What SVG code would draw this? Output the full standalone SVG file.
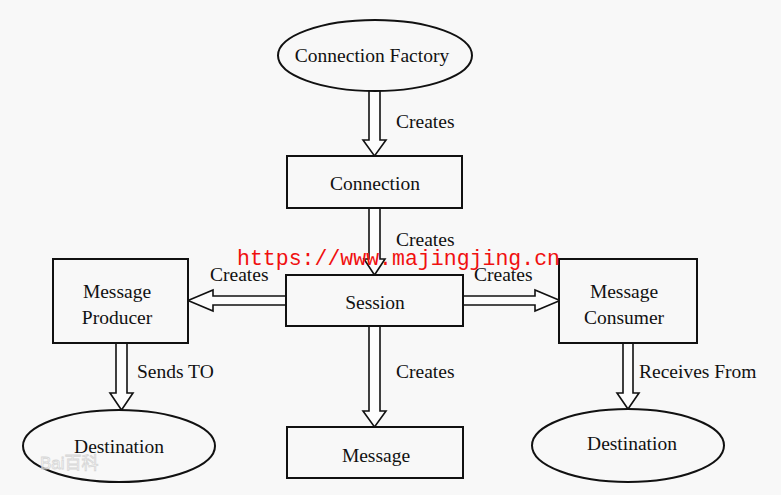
<svg xmlns="http://www.w3.org/2000/svg" width="781" height="495" viewBox="0 0 781 495">
<style>
.bg{fill:#f8f8f8}
.box{fill:#f8f8f8;stroke:#111;stroke-width:2}
.arr{fill:#fdfdfd;stroke:#111;stroke-width:1.6;stroke-linejoin:miter}
.t{font-family:"Liberation Serif","Times New Roman",serif;font-size:19.5px;fill:#111}
.c{text-anchor:middle}
.url{font-family:"Liberation Mono","Courier New",monospace;font-size:21.5px;fill:#f01010}
.wm{font-family:"Liberation Sans","Noto Sans CJK SC",sans-serif;font-size:17px;fill:#ffffff;stroke:#cfcfcf;stroke-width:0.8;opacity:0.8}
</style>
<rect class="bg" x="0" y="0" width="781" height="495"/>
<g id="connectors">
<path class="arr" d="M369 91 L369 140 L363 140 L374.5 156 L386 140 L380 140 L380 91"/>
<path class="arr" d="M369 208 L369 259 L364 259 L374.5 275 L385 259 L380 259 L380 208"/>
<path class="arr" d="M369 326 L369 411 L363 411 L374.5 427 L386 411 L380 411 L380 326"/>
<path class="arr" d="M286 296 L213 296 L213 290 L188 300.5 L213 311 L213 305 L286 305"/>
<path class="arr" d="M463 296 L535 296 L535 290 L560 300.5 L535 311 L535 305 L463 305"/>
<path class="arr" d="M116 343 L116 393 L110 393 L121.5 410 L133 393 L127 393 L127 343"/>
<path class="arr" d="M623 343 L623 393 L617 393 L628 409 L639 393 L633 393 L633 343"/>
<text class="t" x="396" y="128">Creates</text>
<text class="t" x="396" y="246">Creates</text>
<text class="t" x="210" y="281">Creates</text>
<text class="t" x="474" y="281">Creates</text>
<text class="t" x="396" y="378">Creates</text>
<text class="t" x="137" y="378">Sends TO</text>
<text class="t" x="639" y="378">Receives From</text>
</g>
<g id="connection-factory">
<ellipse class="box" cx="375" cy="55.5" rx="97" ry="35.5"/>
<text class="t c" x="372" y="62">Connection Factory</text>
</g>
<g id="connection">
<rect class="box" x="287" y="156" width="175" height="52"/>
<text class="t c" x="375" y="190">Connection</text>
</g>
<g id="session">
<rect class="box" x="286" y="275" width="177" height="51"/>
<text class="t c" x="375" y="309">Session</text>
</g>
<g id="message-producer">
<rect class="box" x="53" y="259" width="135" height="84"/>
<text class="t c" x="117" y="298">Message</text>
<text class="t c" x="117" y="324">Producer</text>
</g>
<g id="message-consumer">
<rect class="box" x="559" y="259" width="138" height="84"/>
<text class="t c" x="624" y="298">Message</text>
<text class="t c" x="624" y="324">Consumer</text>
</g>
<g id="message">
<rect class="box" x="287" y="427" width="176" height="51"/>
<text class="t c" x="376" y="462">Message</text>
</g>
<g id="destination-left">
<ellipse class="box" cx="119" cy="446" rx="96" ry="36"/>
<text class="t c" x="119" y="453">Destination</text>
</g>
<g id="destination-right">
<ellipse class="box" cx="628" cy="445.5" rx="96" ry="36.5"/>
<text class="t c" x="632" y="450">Destination</text>
</g>
<text class="url" x="237" y="265" textLength="323" lengthAdjust="spacingAndGlyphs">https://www.majingjing.cn</text>
<text class="wm" x="40" y="469">Bai百科</text>
</svg>
